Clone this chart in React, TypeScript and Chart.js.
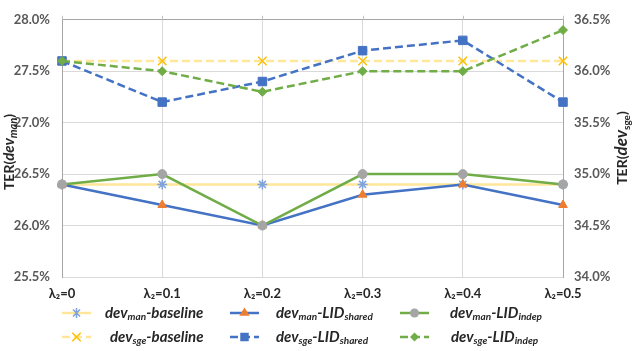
import { useEffect, useRef } from "react";
import { Chart, registerables } from "chart.js";

Chart.register(...registerables);

const categories = ["λ₂=0", "λ₂=0.1", "λ₂=0.2", "λ₂=0.3", "λ₂=0.4", "λ₂=0.5"];
const devManBaseline = [26.4, 26.4, 26.4, 26.4, 26.4, 26.4];
const devSgeBaseline = [36.1, 36.1, 36.1, 36.1, 36.1, 36.1];
const devManShared = [26.4, 26.2, 26.0, 26.3, 26.4, 26.2];
const devSgeShared = [36.1, 35.7, 35.9, 36.2, 36.3, 35.7];
const devManIndep = [26.4, 26.5, 26.0, 26.5, 26.5, 26.4];
const devSgeIndep = [36.1, 36.0, 35.8, 36.0, 36.0, 36.4];

const BLUE = "#4472C4";
const ORANGE = "#ED7D31";
const GREEN = "#70AD47";
const GRAY = "#A5A5A5";
const YELLOW = "#FFE699";
const GOLD = "#FFC000";
const STARBLUE = "#7FA3DD";
const TEXT = "#595959";
const FONT = "Lato, 'Liberation Sans', sans-serif";
const DASH = [8, 4];

type Run = { t: string; f: string; dy?: number };

function runsWidth(ctx: CanvasRenderingContext2D, runs: Run[]) {
  let w = 0;
  for (const r of runs) {
    ctx.font = r.f;
    w += ctx.measureText(r.t).width;
  }
  return w;
}

function drawRuns(ctx: CanvasRenderingContext2D, runs: Run[], x: number, y: number) {
  let cx = x;
  for (const r of runs) {
    ctx.font = r.f;
    ctx.fillText(r.t, cx, y + (r.dy || 0));
    cx += ctx.measureText(r.t).width;
  }
}

function drawMarker(ctx: CanvasRenderingContext2D, style: string, x: number, y: number, r: number, color: string) {
  ctx.save();
  ctx.fillStyle = color;
  ctx.strokeStyle = color;
  ctx.lineWidth = 1.5;
  ctx.setLineDash([]);
  ctx.beginPath();
  if (style === "circle") {
    ctx.arc(x, y, r, 0, Math.PI * 2);
    ctx.fill();
  } else if (style === "rect") {
    const s = r * Math.SQRT1_2;
    ctx.rect(x - s, y - s, 2 * s, 2 * s);
    ctx.fill();
  } else if (style === "rectRot") {
    ctx.moveTo(x, y - r);
    ctx.lineTo(x + r, y);
    ctx.lineTo(x, y + r);
    ctx.lineTo(x - r, y);
    ctx.closePath();
    ctx.fill();
  } else if (style === "triangle") {
    const h = r * 1.5;
    ctx.moveTo(x, y - r);
    ctx.lineTo(x + r * 0.866 * 1.1, y + h - r);
    ctx.lineTo(x - r * 0.866 * 1.1, y + h - r);
    ctx.closePath();
    ctx.fill();
  } else if (style === "crossRot") {
    const d = r * Math.SQRT1_2;
    ctx.moveTo(x - d, y - d);
    ctx.lineTo(x + d, y + d);
    ctx.moveTo(x + d, y - d);
    ctx.lineTo(x - d, y + d);
    ctx.stroke();
  } else if (style === "star") {
    const d = r * Math.SQRT1_2;
    ctx.moveTo(x - d, y - d);
    ctx.lineTo(x + d, y + d);
    ctx.moveTo(x + d, y - d);
    ctx.lineTo(x - d, y + d);
    ctx.moveTo(x, y - r);
    ctx.lineTo(x, y + r);
    ctx.stroke();
  }
  ctx.restore();
}

const legendItems = [
  { sub: "man", suffix: "-baseline", suffixSub: "", color: YELLOW, dash: [] as number[], style: "star", mcolor: STARBLUE, r: 5, col: 0, row: 0 },
  { sub: "man", suffix: "-LID", suffixSub: "shared", color: BLUE, dash: [] as number[], style: "triangle", mcolor: ORANGE, r: 5.5, col: 1, row: 0 },
  { sub: "man", suffix: "-LID", suffixSub: "indep", color: GREEN, dash: [] as number[], style: "circle", mcolor: GRAY, r: 4.5, col: 2, row: 0 },
  { sub: "sge", suffix: "-baseline", suffixSub: "", color: YELLOW, dash: DASH, style: "crossRot", mcolor: GOLD, r: 6, col: 0, row: 1 },
  { sub: "sge", suffix: "-LID", suffixSub: "shared", color: BLUE, dash: DASH, style: "rect", mcolor: BLUE, r: 6, col: 1, row: 1 },
  { sub: "sge", suffix: "-LID", suffixSub: "indep", color: GREEN, dash: DASH, style: "rectRot", mcolor: GREEN, r: 4.5, col: 2, row: 1 },
];

const decorPlugin = {
  id: "decor",
  afterDraw(chart: any) {
    const ctx: CanvasRenderingContext2D = chart.ctx;
    const area = chart.chartArea;
    const xs = chart.scales.x;
    ctx.save();
    // top tick marks
    ctx.strokeStyle = "#BFBFBF";
    ctx.lineWidth = 1;
    for (let i = 0; i < categories.length; i++) {
      const px = Math.round(xs.getPixelForValue(i)) + 0.5;
      ctx.beginPath();
      ctx.moveTo(px, area.top - 4);
      ctx.lineTo(px, area.top);
      ctx.stroke();
    }

    ctx.fillStyle = "#262626";
    ctx.textBaseline = "alphabetic";
    // left title
    const leftRuns: Run[] = [
      { t: "TER(", f: `bold 14px ${FONT}` },
      { t: "dev", f: `italic bold 15px ${FONT}` },
      { t: "man", f: `italic bold 11px ${FONT}`, dy: 3 },
      { t: ")", f: `bold 14px ${FONT}` },
    ];
    const lw = runsWidth(ctx, leftRuns);
    ctx.save();
    ctx.translate(14, 152);
    ctx.rotate(-Math.PI / 2);
    drawRuns(ctx, leftRuns, -lw / 2, 0);
    ctx.restore();

    // right title
    const rightRuns: Run[] = [
      { t: "TER(", f: `bold 14px ${FONT}` },
      { t: "dev", f: `italic bold 17px ${FONT}` },
      { t: "sge", f: `bold 10px ${FONT}`, dy: 3 },
      { t: ")", f: `bold 14px ${FONT}` },
    ];
    const rw = runsWidth(ctx, rightRuns);
    ctx.save();
    ctx.translate(627, 148);
    ctx.rotate(-Math.PI / 2);
    drawRuns(ctx, rightRuns, -rw / 2, 0);
    ctx.restore();

    // legend
    const colLine = [62, 230, 400];
    const colText = [[105, 110], [276, 276], [450, 451]];
    const rowY = [313, 337];
    for (const it of legendItems) {
      const x0 = colLine[it.col];
      const y = rowY[it.row];
      ctx.save();
      ctx.strokeStyle = it.color;
      ctx.lineWidth = 2.5;
      ctx.setLineDash(it.dash);
      ctx.beginPath();
      ctx.moveTo(x0, y);
      ctx.lineTo(x0 + 29, y);
      ctx.stroke();
      ctx.restore();
      drawMarker(ctx, it.style, x0 + 14.5, y, it.r, it.mcolor);
      ctx.fillStyle = "#262626";
      ctx.textBaseline = "middle";
      const runs: Run[] = [
        { t: "dev", f: `italic bold 15px ${FONT}` },
        { t: it.sub, f: `italic bold 10px ${FONT}`, dy: 4 },
        { t: it.suffix, f: `italic bold 15px ${FONT}` },
      ];
      if (it.suffixSub) runs.push({ t: it.suffixSub, f: `italic bold 10px ${FONT}`, dy: 4 });
      drawRuns(ctx, runs, colText[it.col][it.row], y);
    }
    ctx.restore();
  },
};

export default function App() {
  const ref = useRef<HTMLCanvasElement | null>(null);
  useEffect(() => {
    if (!ref.current) return;
    const mk = (
      label: string,
      data: number[],
      axis: string,
      color: string,
      dash: number[],
      style: string,
      mcolor: string,
      radius: number,
      order: number
    ) => ({
      label,
      data,
      yAxisID: axis,
      borderColor: color,
      borderWidth: 2.5,
      borderDash: dash,
      backgroundColor: mcolor,
      pointStyle: style,
      pointRadius: radius,
      pointBorderColor: mcolor,
      pointBackgroundColor: mcolor,
      pointBorderWidth: style === "star" || style === "crossRot" ? 1.5 : 1,
      tension: 0,
      fill: false,
      order,
    });
    const chart = new Chart(ref.current, {
      type: "line",
      data: {
        labels: categories,
        datasets: [
          mk("dev_man-baseline", devManBaseline, "y", YELLOW, [], "star", STARBLUE, 5, 6),
          mk("dev_sge-baseline", devSgeBaseline, "y1", YELLOW, DASH, "crossRot", GOLD, 6, 5),
          mk("dev_man-LID_shared", devManShared, "y", BLUE, [], "triangle", ORANGE, 5, 4),
          mk("dev_sge-LID_shared", devSgeShared, "y1", BLUE, DASH, "rect", BLUE, 6, 3),
          mk("dev_man-LID_indep", devManIndep, "y", GREEN, [], "circle", GRAY, 4.5, 2),
          mk("dev_sge-LID_indep", devSgeIndep, "y1", GREEN, DASH, "rectRot", GREEN, 4.5, 1),
        ] as any,
      },
      options: {
        animation: false,
        responsive: false,
        maintainAspectRatio: false,
        layout: { padding: { top: 17, left: 0, right: 0, bottom: 0 } },
        plugins: {
          legend: { display: false },
          tooltip: { enabled: false },
        },
        scales: {
          x: {
            offset: false,
            grid: { color: "#D9D9D9", lineWidth: 1, drawTicks: false },
            border: { display: false },
            ticks: {
              color: "#262626",
              font: { family: FONT, weight: "bold", size: 13 },
              padding: 9,
              maxRotation: 0,
            },
            afterFit(scale: any) {
              scale.height = 74;
            },
          },
          y: {
            position: "left",
            min: 25.5,
            max: 28,
            grid: {
              color: (c: any) => (c.tick && c.tick.value === 28 ? "#A6A6A6" : "#D9D9D9"),
              lineWidth: 1,
              drawTicks: false,
            },
            border: { display: true, color: "#A6A6A6", width: 1 },
            ticks: {
              stepSize: 0.5,
              color: TEXT,
              padding: 12,
              font: { family: FONT, weight: "bold", size: 13 },
              callback: (v: any) => Number(v).toFixed(1) + "%",
            },
            afterFit(scale: any) {
              scale.width = 62;
            },
          },
          y1: {
            position: "right",
            min: 34,
            max: 36.5,
            grid: { drawOnChartArea: false, drawTicks: false },
            border: { display: true, color: "#A6A6A6", width: 1 },
            ticks: {
              stepSize: 0.5,
              color: TEXT,
              padding: 11,
              font: { family: FONT, weight: "bold", size: 13 },
              callback: (v: any) => Number(v).toFixed(1) + "%",
            },
            afterFit(scale: any) {
              scale.width = 77;
            },
          },
        },
      } as any,
      plugins: [decorPlugin],
    });
    return () => chart.destroy();
  }, []);
  return (
    <div style={{ position: "fixed", left: 0, top: 0, width: 640, height: 351, background: "#fff" }}>
      <canvas ref={ref} width={640} height={351} style={{ width: 640, height: 351, display: "block" }} />
    </div>
  );
}
